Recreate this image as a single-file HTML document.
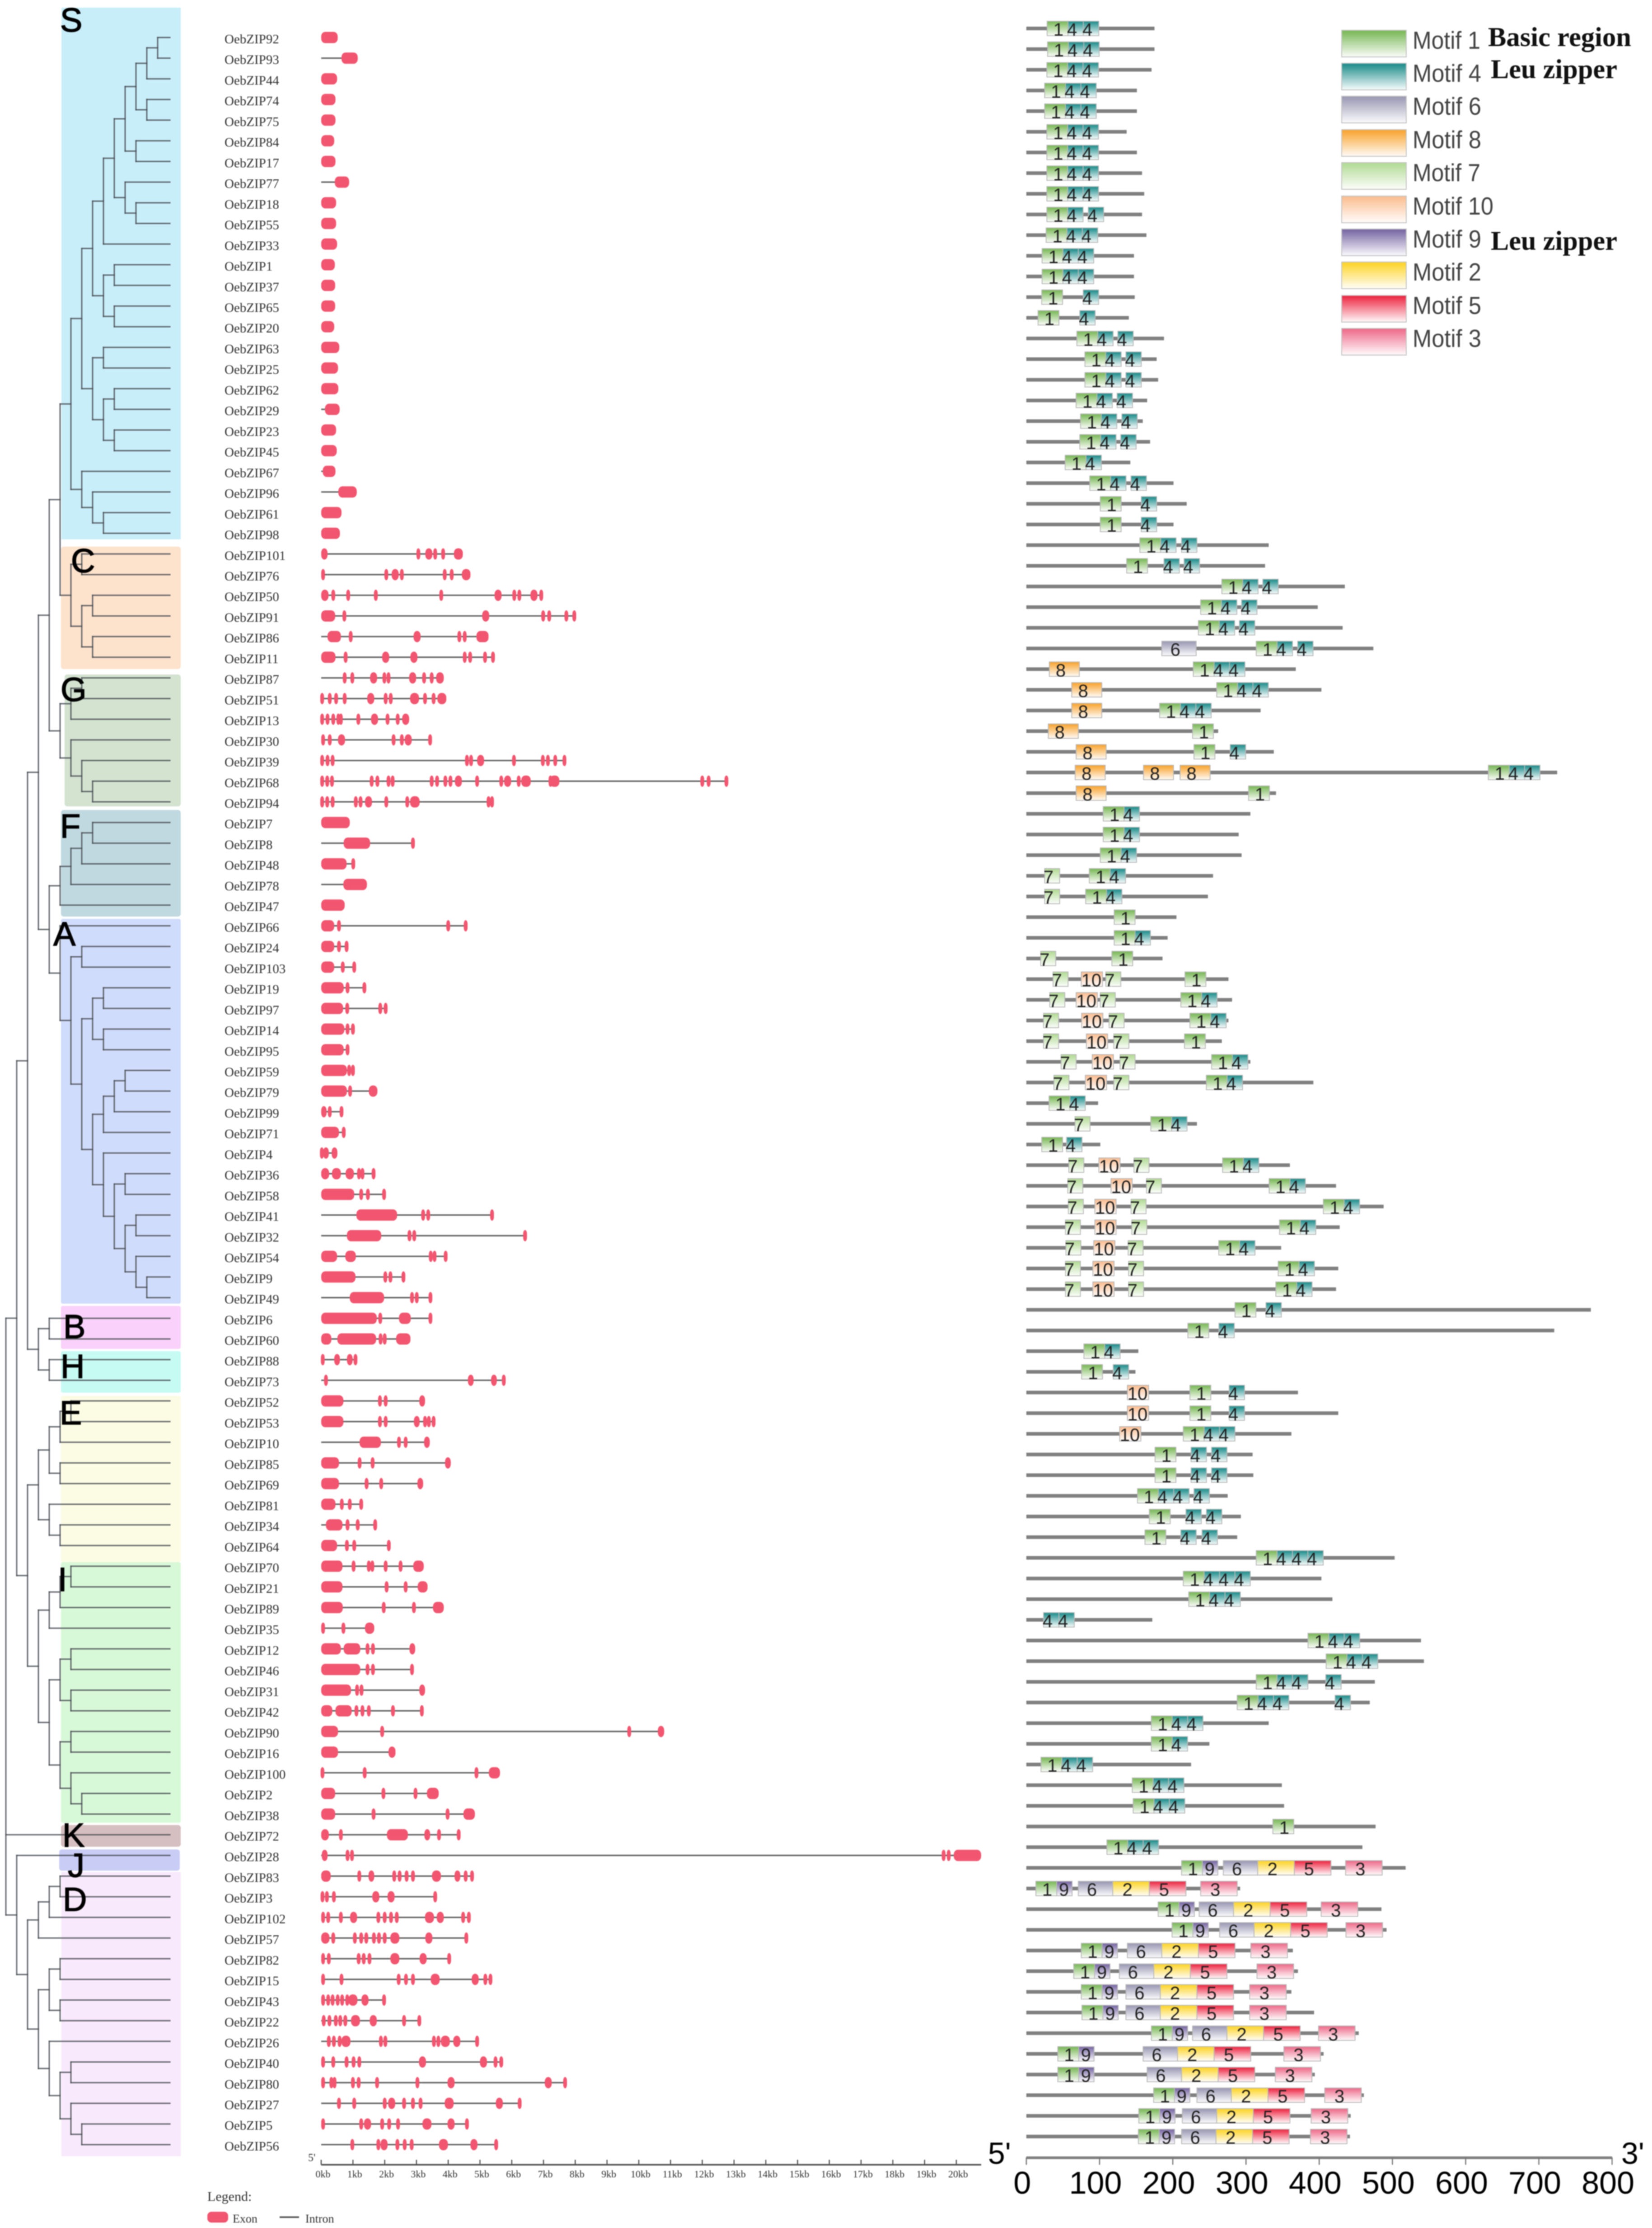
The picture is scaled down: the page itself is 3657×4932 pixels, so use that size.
<!DOCTYPE html>
<html>
<head>
<meta charset="utf-8">
<title>OebZIP phylogeny, gene structure and motifs</title>
<style>
html,body{margin:0;padding:0;background:#fff;width:3657px;height:4932px;overflow:hidden}
svg{display:block;filter:blur(1px)}
.big{font-family:"Liberation Sans",sans-serif;font-size:74px;fill:#000;stroke:#000;stroke-width:1.5px}
.mlab{font-family:"Liberation Sans",sans-serif;font-size:55px;fill:#444}
.note{font-family:"Liberation Serif",serif;font-size:60px;font-weight:bold;fill:#111}
.serif{font-family:"Liberation Serif",serif;fill:#333}
</style>
</head>
<body>
<svg id="chart" xmlns="http://www.w3.org/2000/svg" width="3657" height="4932" viewBox="0 0 3657 4932">
<defs>
<linearGradient id="m1" x1="0" y1="0" x2="0" y2="1"><stop offset=".05" stop-color="#7cba5a"/><stop offset="1" stop-color="#fbfdf9"/></linearGradient>
<linearGradient id="m4" x1="0" y1="0" x2="0" y2="1"><stop offset=".05" stop-color="#22908e"/><stop offset="1" stop-color="#f7fcfc"/></linearGradient>
<linearGradient id="m6" x1="0" y1="0" x2="0" y2="1"><stop offset=".05" stop-color="#9d9bb5"/><stop offset="1" stop-color="#fbfbfd"/></linearGradient>
<linearGradient id="m8" x1="0" y1="0" x2="0" y2="1"><stop offset=".05" stop-color="#f9a634"/><stop offset="1" stop-color="#fffbf6"/></linearGradient>
<linearGradient id="m7" x1="0" y1="0" x2="0" y2="1"><stop offset=".05" stop-color="#b4dc97"/><stop offset="1" stop-color="#fcfefb"/></linearGradient>
<linearGradient id="m10" x1="0" y1="0" x2="0" y2="1"><stop offset=".05" stop-color="#fbbf93"/><stop offset="1" stop-color="#fffdfb"/></linearGradient>
<linearGradient id="m9" x1="0" y1="0" x2="0" y2="1"><stop offset=".05" stop-color="#7a6aa5"/><stop offset="1" stop-color="#fbfafd"/></linearGradient>
<linearGradient id="m2" x1="0" y1="0" x2="0" y2="1"><stop offset=".05" stop-color="#fdd52c"/><stop offset="1" stop-color="#fffef8"/></linearGradient>
<linearGradient id="m5" x1="0" y1="0" x2="0" y2="1"><stop offset=".05" stop-color="#ee2c47"/><stop offset="1" stop-color="#fff9fa"/></linearGradient>
<linearGradient id="m3" x1="0" y1="0" x2="0" y2="1"><stop offset=".05" stop-color="#ee6f8d"/><stop offset="1" stop-color="#fffbfc"/></linearGradient>
</defs>

<g>
<rect x="136" y="17" width="264" height="1177" fill="#c8eefa"/>
<rect x="135" y="1210" width="265" height="271" rx="6" fill="#fde2cc"/>
<rect x="143" y="1493" width="257" height="292" rx="6" fill="#d3e3d0"/>
<rect x="135" y="1793" width="265" height="236" rx="6" fill="#c0d9e0"/>
<rect x="135" y="2034" width="265" height="852" rx="4" fill="#d0dcfb"/>
<rect x="135" y="2891" width="265" height="95" rx="4" fill="#f9d1fa"/>
<rect x="135" y="2991" width="265" height="92" rx="4" fill="#c6fbf3"/>
<rect x="135" y="3090" width="265" height="368" rx="4" fill="#fcfce4"/>
<rect x="135" y="3458" width="265" height="577" rx="4" fill="#d8f9d8"/>
<rect x="135" y="4040" width="265" height="48" rx="6" fill="#d6bfc0"/>
<rect x="131" y="4094" width="267" height="47" rx="6" fill="#c9cdf6"/>
<rect x="136" y="4144" width="264" height="629" fill="#f9e9fc"/>
</g>

<g id="tree"></g>

<g>
<text class="big" x="133" y="70">S</text>
<text class="big" x="157" y="1267">C</text>
<text class="big" x="134" y="1552">G</text>
<text class="big" x="133" y="1854">F</text>
<text class="big" x="118" y="2093">A</text>
<text class="big" x="140" y="2962">B</text>
<text class="big" x="134" y="3050">H</text>
<text class="big" x="132" y="3153">E</text>
<text class="big" x="128" y="3522">I</text>
<text class="big" x="138" y="4088">K</text>
<text class="big" x="150" y="4155">J</text>
<text class="big" x="139" y="4230">D</text>
</g>

<g id="genes"></g>
<g id="geneAxis"></g>
<g id="motifs"></g>
<g id="motifAxis"></g>

<g>
<text class="serif" x="459" y="4872" font-size="30">Legend:</text>
<rect x="459" y="4896" width="46" height="24" rx="9" fill="#f2556f"/>
<text class="serif" x="515" y="4920" font-size="26">Exon</text>
<line x1="619" y1="4908" x2="662" y2="4908" stroke="#555" stroke-width="3.5"/>
<text class="serif" x="676" y="4920" font-size="26">Intron</text>
</g>

<g>
<rect x="2970" y="67" width="143" height="59" fill="url(#m1)" stroke="#c4c4c4" stroke-width="2"/>
<text class="mlab" x="3127" y="108" textLength="150" lengthAdjust="spacingAndGlyphs">Motif 1</text>
<rect x="2970" y="140" width="143" height="59" fill="url(#m4)" stroke="#c4c4c4" stroke-width="2"/>
<text class="mlab" x="3127" y="181" textLength="152" lengthAdjust="spacingAndGlyphs">Motif 4</text>
<rect x="2970" y="213" width="143" height="59" fill="url(#m6)" stroke="#c4c4c4" stroke-width="2"/>
<text class="mlab" x="3127" y="254" textLength="152" lengthAdjust="spacingAndGlyphs">Motif 6</text>
<rect x="2970" y="287" width="143" height="59" fill="url(#m8)" stroke="#c4c4c4" stroke-width="2"/>
<text class="mlab" x="3127" y="328" textLength="152" lengthAdjust="spacingAndGlyphs">Motif 8</text>
<rect x="2970" y="360" width="143" height="59" fill="url(#m7)" stroke="#c4c4c4" stroke-width="2"/>
<text class="mlab" x="3127" y="401" textLength="150" lengthAdjust="spacingAndGlyphs">Motif 7</text>
<rect x="2970" y="434" width="143" height="59" fill="url(#m10)" stroke="#c4c4c4" stroke-width="2"/>
<text class="mlab" x="3127" y="475" textLength="179" lengthAdjust="spacingAndGlyphs">Motif 10</text>
<rect x="2970" y="507" width="143" height="59" fill="url(#m9)" stroke="#c4c4c4" stroke-width="2"/>
<text class="mlab" x="3127" y="548" textLength="152" lengthAdjust="spacingAndGlyphs">Motif 9</text>
<rect x="2970" y="580" width="143" height="59" fill="url(#m2)" stroke="#c4c4c4" stroke-width="2"/>
<text class="mlab" x="3127" y="621" textLength="152" lengthAdjust="spacingAndGlyphs">Motif 2</text>
<rect x="2970" y="654" width="143" height="59" fill="url(#m5)" stroke="#c4c4c4" stroke-width="2"/>
<text class="mlab" x="3127" y="695" textLength="152" lengthAdjust="spacingAndGlyphs">Motif 5</text>
<rect x="2970" y="727" width="143" height="59" fill="url(#m3)" stroke="#c4c4c4" stroke-width="2"/>
<text class="mlab" x="3127" y="768" textLength="152" lengthAdjust="spacingAndGlyphs">Motif 3</text>
<text class="note" x="3294" y="102" textLength="317" lengthAdjust="spacingAndGlyphs">Basic region</text>
<text class="note" x="3300" y="173" textLength="280" lengthAdjust="spacingAndGlyphs">Leu zipper</text>
<text class="note" x="3300" y="553" textLength="280" lengthAdjust="spacingAndGlyphs">Leu zipper</text>
</g>
</svg>

<script>
var geneIds = [92,93,44,74,75,84,17,77,18,55,33,1,37,65,20,63,25,62,29,23,45,67,96,61,98,
101,76,50,91,86,11,87,51,13,30,39,68,94,7,8,48,78,47,66,24,103,19,97,14,95,59,79,99,71,4,36,58,41,32,54,9,49,
6,60,88,73,52,53,10,85,69,81,34,64,70,21,89,35,12,46,31,42,90,16,100,2,38,72,28,83,3,102,57,82,15,43,22,26,40,80,27,5,56];

/* Tree topology: nested clades, numbers are row indexes into geneIds */
var cladeS = [[[[[[[[[0,1],2],[3,4]],[5,6]],[7,[8,9]]],10],[[11,12],[13,14]]],[[15,16],[[17,18],[19,20]]]],[21,[22,[23,24]]]];
var cladeC = [[25,26],[[27,28],[29,30]]];
var cladeG = [[[31,32],33],[34,[35,[36,37]]]];
var cladeF = [[[[38,39],40],41],42];
var cladeA = [43,[[44,45],[[[46,47],[48,49]],[[[[50,51],52],53],[54,[[55,56],[[57,58],[59,[60,61]]]]]]]]];
var cladeBH = [[62,63],[64,65]];
var cladeE = [[[[66,67],68],[69,70]],[71,[72,73]]];
var cladeI = [[[[74,75],76],77],[[[78,79],[80,81]],[[82,83],[84,[85,86]]]]];
var cladeD = [[[[89,90],91],92],[[[93,94],[95,96]],[97,[[98,99],[100,[101,102]]]]]];
var treeRoot = [[[[[[cladeS,cladeC],cladeG],[cladeF,cladeA]],cladeBH],[cladeE,cladeI]],87,[88,cladeD]];

/* Exons in kb: a number is a thin exon centre, a pair is [start,end] */
var geneExons = [
[[0,.52]],[[.64,1.15]],[[0,.5]],[[0,.45]],[[0,.45]],[[0,.41]],[[0,.45]],[[.43,.88]],[[0,.47]],[[0,.47]],[[0,.5]],[[0,.43]],[[0,.44]],[[0,.44]],[[0,.41]],[[0,.57]],[[0,.53]],[[0,.54]],[[.12,.58]],[[0,.47]],[[0,.49]],[[.05,.45]],[[.54,1.12]],[[0,.64]],[[0,.59]],
[[0,.2],3.06,[3.28,3.5],3.59,3.84,[4.18,4.46]],
[[0,.12],2.05,[2.22,2.44],2.54,3.89,4.11,[4.43,4.7]],
[[0,.23],.38,.85,1.72,3.78,[5.46,5.68],6.08,6.24,[6.59,6.81],6.93],
[[0,.44],.73,[5.07,5.29],6.99,7.18,7.72,7.97],
[[.2,.62],.93,[2.91,3.13],4.35,4.52,[4.89,5.27]],
[[0,.45],.77,[1.92,2.14],[2.81,3.03],4.52,4.69,5.16,5.41],
[.74,.98,[1.54,1.76],1.99,2.12,[2.77,2.99],3.24,3.48,[3.62,3.86]],
[.03,.27,.47,.74,[1.45,1.67],2.03,2.19,[2.8,3.08],3.27,3.54,[3.66,3.94]],
[.03,.2,.38,.54,.62,1.17,[1.57,1.79],2.09,2.41,[2.55,2.77]],
[.06,.27,[.53,.75],2.28,2.54,[2.63,2.85],3.43],
[.03,.2,.36,4.59,4.72,[4.91,5.13],6.07,6.98,7.14,7.37,7.66],
[.03,.19,.34,1.59,1.77,2.12,2.25,3.48,3.65,3.91,4.07,[4.21,4.43],4.91,5.67,[5.76,5.98],6.22,[6.3,6.6],7.22,[7.2,7.5],12,12.2,12.76],
[.03,.19,.36,1.09,1.24,[1.38,1.6],2.05,2.71,[2.8,3.1],5.27,5.38],
[[0,.9]],[[.71,1.54],2.89],[[0,.8],1.01],[[.7,1.44]],[[0,.74]],
[[0,.41],.56,4,4.55],[[0,.41],.56,.8],[[0,.41],.68,1.04],[[0,.71],.83,1.36],[[0,.69],.82,1.86,2.03],[[0,.73],.83,1],[[0,.71],.83],[[0,.81],.88,1],[[0,.81],.91,[1.5,1.77]],[[0,.17],.27,.64],[[0,.56],.71],
[.02,[.06,.24],[.33,.51]],
[[0,.25],[.34,.62],[.77,1.03],1.19,1.3,1.65],[[0,1.04],1.26,1.47,1.98],[[1.11,2.39],3.21,3.37,5.38],[[.81,1.89],2.78,2.93,6.42],[[0,.5],[.76,1.09],3.45,3.57,3.92],[[0,1.08],2.02,2.18,2.59],[[.9,1.98],2.86,3.01,3.44],
[[0,1.75],1.86,[2.45,2.82],3.44],[[0,.32],[.51,1.73],1.87,2,[2.36,2.81]],
[.05,[.41,.59],[.81,.99],1.08],[.15,[4.62,4.8],[5.35,5.53],5.75],
[[0,.7],1.85,2.03,[3.09,3.27]],[[0,.7],1.85,2.03,[2.92,3.1],3.27,3.39,3.54],[[1.21,1.88],2.45,2.66,[3.24,3.42]],[[0,.56],1.21,1.62,[3.9,4.08]],[[0,.56],1.43,1.89,[3.03,3.21]],[[0,.45],.65,.9,1.26],[[.15,.67],.83,1.15,1.7],[[0,.5],.81,1.04,2.13],
[[0,.67],1.02,1.5,1.61,2.03,2.5,[2.9,3.23]],[[0,.67],2.06,2.66,[3.04,3.35]],[[0,.68],1.97,2.92,[3.52,3.86]],[.06,.7,[1.38,1.67]],[[0,.62],[.71,1.23],1.46,1.63,[2.78,2.96]],[[0,1.23],1.46,1.63,2.86],[[0,.94],1.13,1.27,[3.09,3.27]],[[0,.35],[.45,.96],1.11,1.3,1.5,2.26,3.17],[[0,.53],1.92,9.7,[10.6,10.8]],[[0,.53],[2.12,2.34]],[.04,1.37,4.89,[5.28,5.63]],[[0,.44],1.96,2.97,[3.33,3.7]],[[0,.44],1.65,3.98,[4.48,4.84]],[[0,.24],.62,[2.07,2.73],[3.25,3.43],3.71,4.33],
[[.02,.2],.83,.97,19.6,19.76,[19.92,20.78]],
[[0,.3],1.2,[1.49,1.67],2.3,2.47,2.69,2.89,[3.49,3.77],[4.2,4.38],4.55,4.75],
[.04,.18,.4,[1.61,1.83],[2.09,2.31],3.59],
[.06,.22,.62,[.91,1.13],1.8,2,2.2,2.38,[3.27,3.55],[3.64,3.86],4.47,4.65],
[[0,.26],.38,1.06,1.26,1.42,1.66,1.82,2,[2.18,2.46],[3.28,3.5],4.57],
[.06,.24,1.18,1.34,1.52,[2.18,2.46],[3.1,3.32],4.03],
[.06,.64,2.44,2.67,2.89,[3.45,3.73],[4.74,4.96],5.17,5.33],
[.06,.22,.36,.52,.66,.82,[.86,1.14],[1.27,1.49],1.98],
[.08,.26,.46,.6,.76,[.94,1.22],[1.53,1.75],2.61,3.09],
[.24,.4,.58,[.64,.92],1.88,2.02,3.55,3.69,[3.77,4.05],[4.16,4.38],4.91],
[.06,.38,.8,1.02,1.2,[3.08,3.3],[5,5.22],5.49,5.67],
[.06,.32,.42,1,1.18,1.76,3.03,[3.98,4.2],[7.04,7.26],7.68],
[.56,1.04,2,[2.11,2.33],2.61,2.89,3.13,[3.89,4.17],[5.5,5.72],6.25],
[.06,1.26,[1.35,1.57],1.92,2.14,2.42,[3.19,3.47],[3.98,4.2],4.59],
[.98,1.8,[1.87,2.09],2.4,2.63,2.85,[3.71,3.99],[4.7,4.92],5.51]
];

var kbTicks = [0,1,2,3,4,5,6,7,8,9,10,11,12,13,14,15,16,17,18,19,20];
var aaTicks = [0,100,200,300,400,500,600,700,800];

/* Motif widths in residues, by motif id */
var motifWidths = {1:28.5,2:50,3:50,4:21,5:50,6:47,7:20.5,8:41,9:21,10:29};

/* Protein length in residues, per row */
var proteinLengths = [175,175,171,151,151,137,151,158,161,158,164,147,147,148,140,188,178,180,165,159,169,142,201,219,201,
331,326,435,398,432,474,368,403,320,262,338,725,341,306,290,294,255,248,205,193,186,276,281,276,267,306,392,98,233,101,360,423,488,428,348,426,423,
771,721,153,149,371,426,362,309,310,275,293,288,503,403,418,172,539,543,476,469,331,250,225,349,352,477,459,518,292,485,492,364,371,362,393,454,406,394,461,443,442];

/* Motif sites per row: each segment is [start, motif ids placed end to end] */
var motifRows = [
[[28.4,1,4,4]],[[29,1,4,4]],[[28,1,4,4]],[[25,1,4,4]],[[25,1,4,4]],[[28,1,4,4]],[[28,1,4,4]],[[28,1,4,4]],[[28,1,4,4]],[[28,1,4],[84.6,4]],[[27,1,4,4]],[[21.5,1,4,4]],[[21.5,1,4,4]],[[21,1],[77.7,4]],[[16,1],[73,4]],
[[69,1,4],[125,4]],[[80,1,4],[136,4]],[[80,1,4],[136,4]],[[68,1,4],[124,4]],[[74,1,4],[130.5,4]],[[73,1,4],[129,4]],[[53,1,4]],[[86.6,1,4],[143,4]],[[101,1],[157,4]],[[101,1],[157,4]],
[[155,1,4],[212,4]],[[137,1],[188,4],[215.5,4]],[[267,1,4],[323,4]],[[238,1,4],[294,4]],[[235,1,4],[291,4]],[[185,6],[314,1,4],[370.6,4]],
[[31.4,8],[228,1,4,4]],[[62,8],[260,1,4,4]],[[62,8],[182,1,4,4]],[[30,8],[227,1]],[[68,8],[229,1],[278.5,4]],[[66.7,8],[160,8],[210,8],[631,1,4,4]],[[68,8],[303.5,1]],
[[105,1,4]],[[105,1,4]],[[101,1,4]],[[25,7],[86,1,4]],[[25,7],[81,1,4]],
[[120,1]],[[120,1,4]],[[19.6,7],[116.8,1]],[[36.5,7],[75,10],[108.5,7],[216.7,1]],[[32,7],[68,10],[101,7],[211,1,4]],[[23.5,7],[75.5,10],[113,7],[223.4,1,4]],[[23.5,7],[82,10],[119.5,7],[216,1]],[[47.5,7],[90,10],[128,7],[253,1,4]],[[37.7,7],[80.6,10],[119.5,7],[245.8,1,4]],[[31,1,4]],[[66.5,7],[170,1,4]],[[21,1],[55,4]],
[[58,7],[99,10],[147,7],[268,1,4]],[[56.6,7],[115.6,10],[164,7],[331.6,1,4]],[[57.4,7],[93.6,10],[143,7],[405.6,1,4]],[[53.4,7],[93.6,10],[144,7],[345.8,1,4]],[[54,7],[92,10],[139,7],[262.8,1,4]],[[53.4,7],[90.8,10],[139.6,7],[344,1,4]],[[53.4,7],[90.8,10],[139.6,7],[340.7,1,4]],
[[285,1],[327.3,4]],[[220.6,1],[263,4]],[[78.6,1,4]],[[75.5,1],[118.7,4]],
[[138,10],[223.4,1],[277,4]],[[138,10],[223.4,1],[277,4]],[[127.4,10],[214.4,1,4,4]],[[175.8,1],[225,4],[253,4]],[[175.8,1],[225,4],[253,4]],[[151.8,1,4,4],[229,4]],[[168,1],[218,4],[246,4]],[[162,1],[211,4],[240,4]],
[[314,1,4,4,4]],[[214.4,1,4,4,4]],[[221.8,1,4,4]],[[23.5,4,4]],[[384.7,1,4,4]],[[409.5,1,4,4]],[[314,1,4,4],[409,4]],[[288,1,4,4],[421.7,4]],[[170.7,1,4,4]],[[170.7,1,4]],[[20,1,4,4]],[[144.7,1,4,4]],[[145.9,1,4,4]],[[336.7,1]],[[110,1,4,4]],
[[212,1,9],[269,6,2,5],[436,3]],
[[13,1,9],[71,6,2,5],[238,3]],
[[180,1,9],[236,6,2,5],[402.7,3]],
[[199,1,9],[264,6,2,5],[436.5,3]],
[[75,1,9],[138,6,2,5],[306.6,3]],
[[64.7,1,9],[127,6,2,5],[315,3]],
[[75,1,9],[136,6,2,5],[305,3]],
[[76,1,9],[136,6,2,5],[305,3]],
[[170.8,1,9],[227,6,2,5],[399,3]],
[[43,1,9],[159.5,6,2,5],[351.7,3]],
[[43,1,9],[165,6,2,5],[340,3]],
[[173.8,1,9],[233,6,2,5],[407.5,3]],
[[153.6,1,9],[213,6,2,5],[389,3]],
[[153,1,9],[212,6,2,5],[388,3]]
];

var SVGNS = 'http://www.w3.org/2000/svg';
function mk(parent, tag, attrs, txt) {
  var el = document.createElementNS(SVGNS, tag);
  for (var k in attrs) el.setAttribute(k, attrs[k]);
  if (txt !== undefined) el.textContent = txt;
  parent.appendChild(el);
  return el;
}

/* Scales */
function rowY(i) { return 83 + 45.73 * i; }
function motifRowY(i) { return 63 + 45.75 * i; }
function depthX(d) { return 13 + 24 * d; }
function kbX(k) { return 711 + 70.3 * k; }
function aaX(a) { return 2272 + 1.6208 * a; }
var LEAF_X = 376;

/* Tree */
var treeG = document.getElementById('tree');
function branch(x1, y1, x2, y2) {
  var el = mk(treeG, 'line', {x1: x1, y1: y1, x2: x2, y2: y2, stroke: '#4a4f55', 'stroke-opacity': 0.82, 'stroke-width': 3, 'stroke-linecap': 'square'});
  
  
}
function drawClade(node, depth) {
  if (typeof node === 'number') return rowY(node);
  var x = depthX(depth);
  var ys = [];
  for (var i = 0; i < node.length; i++) {
    var c = node[i];
    var y = drawClade(c, depth + 1);
    ys.push(y);
    branch(x, y, typeof c === 'number' ? LEAF_X : depthX(depth + 1), y);
  }
  branch(x, ys[0], x, ys[ys.length - 1]);
  return (ys[0] + ys[ys.length - 1]) / 2;
}
drawClade(treeRoot, 0);

/* Gene structures */
var genesG = document.getElementById('genes');
geneIds.forEach(function (id, i) {
  var y = rowY(i);
  var label = mk(genesG, 'text', {x: 497, y: y + 13, 'font-size': 29, 'class': 'serif'}, 'OebZIP' + id);
  
  
  var exons = geneExons[i];
  var last = exons[exons.length - 1];
  var end = typeof last === 'number' ? last : last[1];
  var intron = mk(genesG, 'line', {x1: kbX(0), y1: y, x2: kbX(end), y2: y, stroke: '#666', 'stroke-width': 3.2});
  
  
  exons.forEach(function (e) {
    var s = typeof e === 'number' ? e - 0.06 : e[0];
    var t = typeof e === 'number' ? e + 0.06 : e[1];
    var w = (t - s) * 70.3;
    var r = mk(genesG, 'rect', {x: kbX(s), y: y - 12.5, width: w, height: 25, rx: Math.min(w / 2, 9), ry: Math.min(w / 2 + 4, 10), fill: '#f2556f'});
    
    
  });
});

/* Gene scale */
var geneAxisG = document.getElementById('geneAxis');
var gaLine = mk(geneAxisG, 'line', {x1: kbX(0), y1: 4792, x2: 2172, y2: 4792, stroke: '#555', 'stroke-width': 3.5});


var ga5 = mk(geneAxisG, 'text', {x: 682, y: 4784, 'font-size': 24, 'class': 'serif'}, "5'");


kbTicks.forEach(function (k) {
  var t = mk(geneAxisG, 'line', {x1: kbX(k), y1: 4781, x2: kbX(k), y2: 4792, stroke: '#555', 'stroke-width': 2.5});
  
  
  var l = mk(geneAxisG, 'text', {x: kbX(k) + 4, y: 4820, 'font-size': 22, 'text-anchor': 'middle', 'class': 'serif'}, k + 'kb');
  
  
});

/* Motif panel */
var motifG = document.getElementById('motifs');
var digitShift = {1: 2, 9: -1, 10: -1};
proteinLengths.forEach(function (len, i) {
  var y = motifRowY(i);
  var line = mk(motifG, 'line', {x1: aaX(0), y1: y, x2: aaX(len), y2: y, stroke: '#808080', 'stroke-width': 8});
  
  
  motifRows[i].forEach(function (seg) {
    var pos = seg[0];
    for (var j = 1; j < seg.length; j++) {
      var m = seg[j];
      var w = motifWidths[m];
      var box = mk(motifG, 'rect', {x: aaX(pos), y: y - 16, width: w * 1.6208, height: 32, fill: 'url(#m' + m + ')', stroke: '#b8b8b8', 'stroke-width': 1.8});
      
      
      var shift = digitShift[m] !== undefined ? digitShift[m] : -8;
      var d = mk(motifG, 'text', {x: aaX(pos + w / 2) + shift, y: y + 16, 'font-size': 40, 'text-anchor': 'middle', 'font-family': '"Liberation Sans",sans-serif', fill: '#222'}, String(m));
      
      
      pos += w;
    }
  });
});

/* Motif scale */
var motifAxisG = document.getElementById('motifAxis');
var maLine = mk(motifAxisG, 'line', {x1: aaX(0), y1: 4776.5, x2: aaX(800), y2: 4776.5, stroke: '#808080', 'stroke-width': 6});


aaTicks.forEach(function (a) {
  var t = mk(motifAxisG, 'line', {x1: aaX(a), y1: 4776, x2: aaX(a), y2: 4792, stroke: '#777', 'stroke-width': 2.5});
  
  
  var l = mk(motifAxisG, 'text', {x: aaX(a) - 9, y: 4856, 'font-size': 70, 'text-anchor': 'middle', 'font-family': '"Liberation Sans",sans-serif', fill: '#000'}, String(a));
  
  
});
var five = mk(motifAxisG, 'text', {x: 2187, y: 4790, 'font-size': 68, 'font-family': '"Liberation Sans",sans-serif', fill: '#000'}, "5'");


var three = mk(motifAxisG, 'text', {x: 3589, y: 4790, 'font-size': 68, 'font-family': '"Liberation Sans",sans-serif', fill: '#000'}, "3'");


</script>
</body>
</html>
